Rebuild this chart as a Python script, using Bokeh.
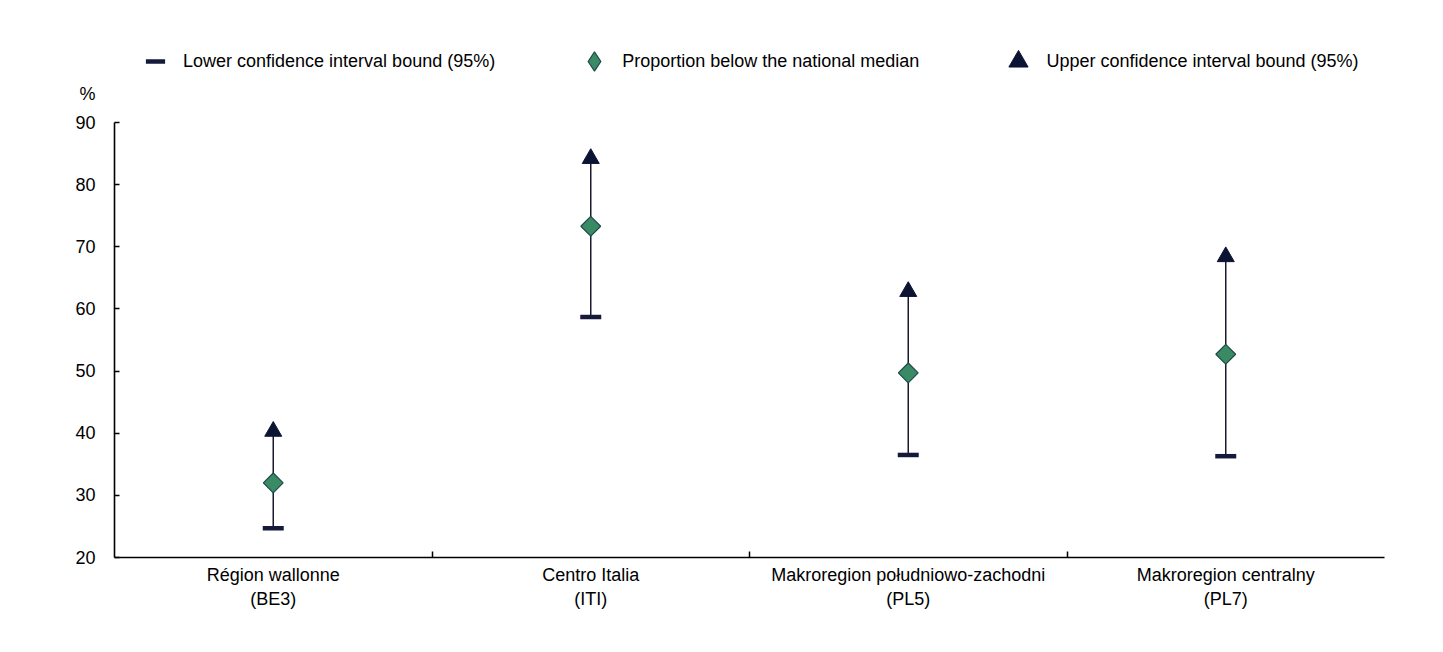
from bokeh.plotting import figure
from bokeh.models import Range1d, FixedTicker, Legend, LegendItem, ColumnDataSource
from bokeh.embed import file_html
from bokeh.resources import INLINE

categories = ["Région wallonne\n(BE3)", "Centro Italia\n(ITI)",
              "Makroregion południowo-zachodni\n(PL5)", "Makroregion centralny\n(PL7)"]
lower = [24.7, 58.7, 36.5, 36.3]
proportion = [32.0, 73.3, 49.7, 52.7]
upper = [40.3, 84.2, 62.8, 68.4]
y_ticks = [20, 30, 40, 50, 60, 70, 80, 90]
unit_label = "%"

FONT = "Liberation Sans"
FS = "18px"

W, H = 1420, 630
B_LEFT, B_RIGHT, B_TOP, B_BOTTOM = 114, 36, 8, 73
PX_PER_UNIT = 435 / 70.0
y_top = 20 + (H - B_TOP - B_BOTTOM) / PX_PER_UNIT

xpos = [i + 0.5 for i in range(len(categories))]
src = ColumnDataSource(dict(x=xpos, lower=lower, prop=proportion, upper=upper))

p = figure(width=W, height=H, output_backend="svg", toolbar_location=None,
           x_range=Range1d(0, len(categories)), y_range=Range1d(20, y_top),
           min_border_left=B_LEFT, min_border_right=B_RIGHT, min_border_top=B_TOP,
           min_border_bottom=B_BOTTOM)
p.outline_line_color = None
p.xgrid.visible = False
p.ygrid.visible = False
p.background_fill_color = "white"

LOW_C, UP_C, MID_FILL, MID_LINE = "#161a3a", "#0c1433", "#3a8a66", "#1e4a48"

seg = p.segment(x0="x", y0="lower", x1="x", y1="upper", source=src, line_color="#1a1a2e", line_width=1.5)
r_low = p.scatter(x="x", y="lower", source=src, marker="dash", size=21, line_width=4.5, line_color=LOW_C)
r_up = p.scatter(x="x", y="upper", source=src, marker="triangle", size=17, fill_color=UP_C, line_color=UP_C)
# legend proxy (legend glyphs ignore marker angle); hidden beneath the rotated squares
r_mid_leg = p.scatter(x="x", y="prop", source=src, marker="diamond", size=12,
                      fill_color=MID_FILL, line_color=MID_LINE, line_width=1.2)
r_mid = p.scatter(x="x", y="prop", source=src, marker="square", angle=0.785398, size=14,
                  fill_color=MID_FILL, line_color=MID_LINE, line_width=1.2)

# x axis
xa = p.xaxis[0]
xa.ticker = FixedTicker(ticks=xpos, minor_ticks=[1, 2, 3])
xa.major_label_overrides = {x: c for x, c in zip(xpos, categories)}
xa.major_tick_line_color = None
xa.major_tick_in = 0
xa.major_tick_out = 0
xa.minor_tick_in = 6
xa.minor_tick_out = 0
xa.minor_tick_line_color = "black"
xa.minor_tick_line_width = 1.5
xa.axis_line_color = "black"
xa.axis_line_width = 1.6
xa.major_label_text_font = FONT
xa.major_label_text_font_size = FS
xa.major_label_text_color = "black"
xa.major_label_standoff = 7

# y axis
ya = p.yaxis[0]
ya.bounds = (20, 90)
ya.ticker = FixedTicker(ticks=y_ticks)
ya.major_label_overrides = {y_ticks[-1]: unit_label + "\n" + str(y_ticks[-1]) + "\n "}
ya.minor_tick_line_color = None
ya.major_tick_in = 5
ya.major_tick_out = 0
ya.major_tick_line_width = 1.5
ya.axis_line_width = 1.6
ya.major_label_text_font = FONT
ya.major_label_text_font_size = FS
ya.major_label_text_line_height = 1.45
ya.major_label_text_color = "black"
ya.major_label_standoff = 19

legend = Legend(items=[
    LegendItem(label="Lower confidence interval bound (95%)", renderers=[r_low]),
    LegendItem(label="Proportion below the national median", renderers=[r_mid_leg]),
    LegendItem(label="Upper confidence interval bound (95%)", renderers=[r_up]),
], orientation="horizontal", location=(17, 472), padding=0, margin=0, spacing=75,
    label_standoff=4, glyph_width=48, glyph_height=48,
    label_text_font=FONT, label_text_font_size=FS, label_text_color="black",
    border_line_color=None, background_fill_alpha=0)
p.add_layout(legend, "center")

open("out.html", "w").write(file_html(p, INLINE))
